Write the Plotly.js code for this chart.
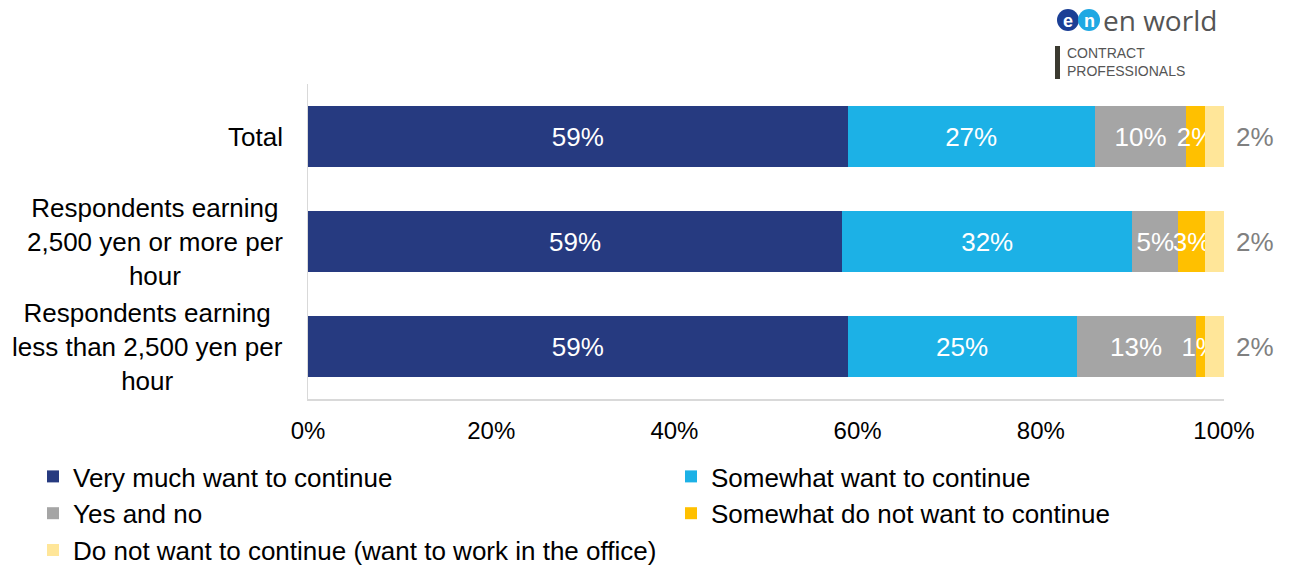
<!DOCTYPE html>
<html><head><meta charset="utf-8">
<script src="https://cdn.plot.ly/plotly-3.0.1.min.js"></script>
<style>body{margin:0;background:#fff}#chart{width:1290px;height:566px}</style>
</head><body><div id="chart"></div>
<script>
var categories = ["Total", "Respondents earning<br>2,500 yen or more per<br>hour", "Respondents earning<br>less than 2,500 yen per<br>hour"];
var seriesNames = ["Very much want to continue", "Somewhat want to continue", "Yes and no", "Somewhat do not want to continue", "Do not want to continue (want to work in the office)"];
var veryMuch = [58.9, 58.3, 58.9];
var somewhat = [27.0, 31.7, 25.0];
var yesNo = [10.0, 5.0, 13.0];
var somewhatNot = [2.0, 2.9, 1.0];
var notContinue = [2.1, 2.1, 2.1];
var veryMuchLabels = ["59%", "59%", "59%"];
var somewhatLabels = ["27%", "32%", "25%"];
var yesNoLabels = ["10%", "5%", "13%"];
var somewhatNotLabels = ["2%", "3%", "1%"];
var notContinueLabels = ["2%", "2%", "2%"];
var xTickVals = [0, 20, 40, 60, 80, 100];
var xTickText = ["0%", "20%", "40%", "60%", "80%", "100%"];

var colors = ["#263A80", "#1CB1E6", "#A5A5A5", "#FFC000", "#FFE699"];
var series = [veryMuch, somewhat, yesNo, somewhatNot, notContinue];
var labels = [veryMuchLabels, somewhatLabels, yesNoLabels, somewhatNotLabels, null];
var legendColumn = ["legend", "legend2", "legend", "legend2", "legend"];
var FONT = "Liberation Sans, Arial, sans-serif";

var traces = series.map(function (vals, i) {
  var t = {
    type: "bar", orientation: "h", name: seriesNames[i],
    x: vals, y: categories,
    marker: {color: colors[i], line: {width: 0}},
    legend: legendColumn[i],
    hoverinfo: "none"
  };
  if (labels[i]) {
    t.text = labels[i];
    t.textposition = "inside";
    t.insidetextanchor = "middle";
    t.textangle = 0;
    t.constraintext = "none";
    t.insidetextfont = {color: "#ffffff", size: 26, family: FONT};
  } else {
    t.textposition = "none";
  }
  return t;
});

// plot area geometry (pixels) for paper-coordinate helpers
var W = 1290, H = 566;
var L = 308, R = 1224, T = 84, B = 399;
function px(x) { return (x - L) / (R - L); }
function py(y) { return (B - y) / (B - T); }

var annotations = [];
categories.forEach(function (c, k) {
  var total = 0;
  series.forEach(function (s) { total += s[k]; });
  annotations.push({x: total, y: c, xref: "x", yref: "y", text: notContinueLabels[k], showarrow: false,
          xanchor: "left", xshift: 10, font: {size: 26, color: "#808080", family: FONT}});
  annotations.push({x: px(285), y: c, xref: "paper", yref: "y", text: c, showarrow: false,
          xanchor: "right", yanchor: "middle", align: "center", font: {size: 26, color: "#000", family: FONT}});
});
// logo texts
annotations.push({xref: "paper", yref: "paper", x: px(1068), y: py(21), text: "<b>e</b>", showarrow: false,
  xanchor: "center", yanchor: "middle", font: {size: 18, color: "#fff", family: FONT}});
annotations.push({xref: "paper", yref: "paper", x: px(1089), y: py(21), text: "<b>n</b>", showarrow: false,
  xanchor: "center", yanchor: "middle", font: {size: 18, color: "#fff", family: FONT}});
annotations.push({xref: "paper", yref: "paper", x: px(1101), y: py(20), text: "en world", showarrow: false,
  xanchor: "left", yanchor: "middle", font: {size: 28, color: "#555555", family: "Open Sans, sans-serif"}});
annotations.push({xref: "paper", yref: "paper", x: px(1065), y: py(62), text: "CONTRACT<br>PROFESSIONALS", showarrow: false,
  xanchor: "left", yanchor: "middle", align: "left",
  font: {size: 14, color: "#555555", family: "Liberation Sans Narrow, Arial Narrow, sans-serif"}});

var shapes = [
  {type: "circle", xref: "paper", yref: "paper", x0: px(1057), x1: px(1079), y0: py(31), y1: py(9), fillcolor: "#1B3F95", line: {width: 0}},
  {type: "circle", xref: "paper", yref: "paper", x0: px(1078), x1: px(1100), y0: py(31), y1: py(9), fillcolor: "#1FA8E3", line: {width: 0}},
  {type: "rect", xref: "paper", yref: "paper", x0: px(1055), x1: px(1060), y0: py(79), y1: py(46), fillcolor: "#3b3a30", line: {width: 0}}
];

function legendAt(left) {
  return {orientation: "h", xref: "container", yref: "container", x: left / W, xanchor: "left",
          y: 1 - 453 / H, yanchor: "top", traceorder: "normal", bgcolor: "rgba(0,0,0,0)",
          entrywidth: 600, entrywidthmode: "pixels",
          font: {size: 26, color: "#000", family: FONT}, itemclick: false, itemdoubleclick: false};
}

var layout = {
  width: W, height: H,
  margin: {l: L, r: W - R, t: T, b: H - B, pad: 0},
  paper_bgcolor: "#fff", plot_bgcolor: "#fff",
  barmode: "stack", bargap: 0.41,
  showlegend: true,
  font: {family: FONT, color: "#000"},
  xaxis: {range: [0, 100], tickvals: xTickVals, ticktext: xTickText, showgrid: false, zeroline: false,
          showline: true, linecolor: "#d9d9d9", linewidth: 1.5, ticks: "", ticklabelstandoff: 10,
          tickfont: {size: 24, color: "#000", family: FONT}, fixedrange: true},
  yaxis: {autorange: "reversed", showgrid: false, zeroline: false, showline: true, linecolor: "#d9d9d9",
          linewidth: 1.5, ticks: "", showticklabels: false},
  legend: legendAt(33),
  legend2: legendAt(671),
  annotations: annotations,
  shapes: shapes
};

Plotly.newPlot("chart", traces, layout, {displayModeBar: false, staticPlot: true});
</script></body></html>
